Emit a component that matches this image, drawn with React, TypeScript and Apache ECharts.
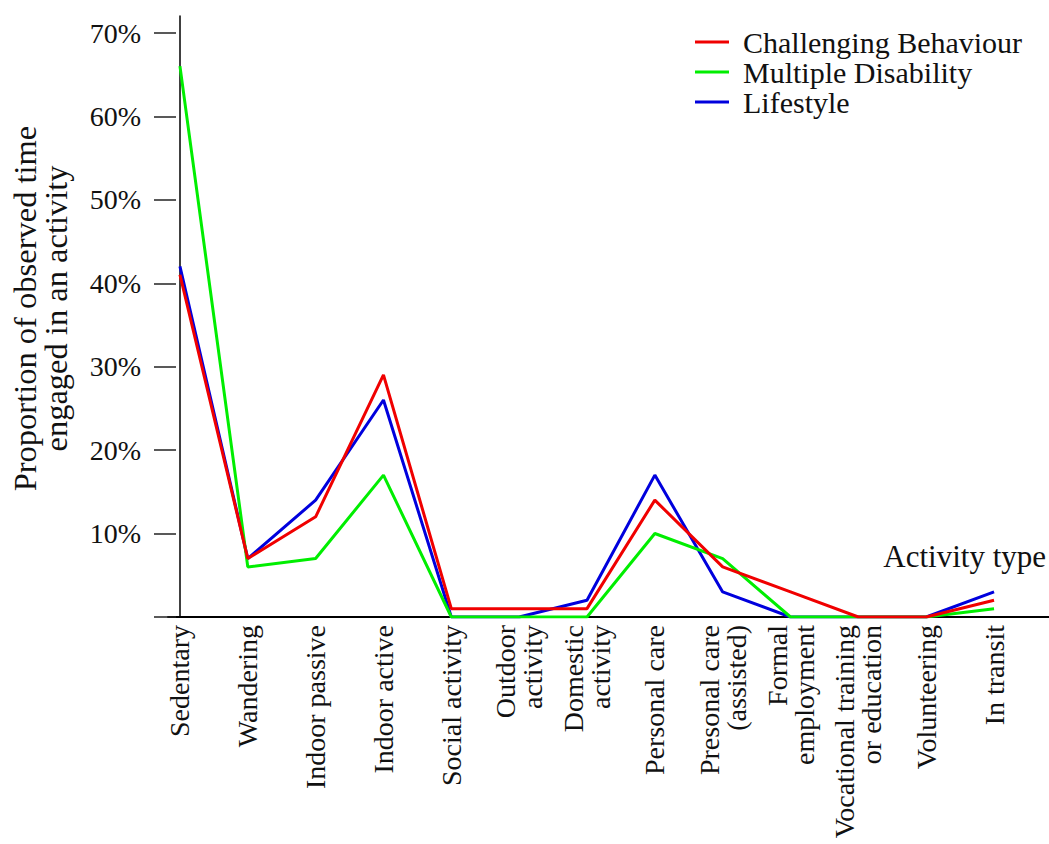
import React, { useEffect, useRef } from "react";
import * as echarts from "echarts";

const categories = [
  "Sedentary",
  "Wandering",
  "Indoor passive",
  "Indoor active",
  "Social activity",
  "Outdoor\nactivity",
  "Domestic\nactivity",
  "Personal care",
  "Presonal care\n(assisted)",
  "Formal\nemployment",
  "Vocational training\nor education",
  "Volunteering",
  "In transit",
];
const challengingBehaviour = [41, 7, 12, 29, 1, 1, 1, 14, 6, 3, 0, 0, 2];
const multipleDisability = [66, 6, 7, 17, 0, 0, 0, 10, 7, 0, 0, 0, 1];
const lifestyle = [42, 7, 14, 26, 0, 0, 2, 17, 3, 0, 0, 0, 3];
const seriesNames = ["Challenging Behaviour", "Multiple Disability", "Lifestyle"];
const yTickMax = 70;
const yTickStep = 10;

const FONT = "'Liberation Serif', 'Times New Roman', serif";

export default function App() {
  const ref = useRef<HTMLDivElement>(null);
  useEffect(() => {
    if (!ref.current) return;
    const chart = echarts.init(ref.current, null, { renderer: "svg" });
    const idx = categories.map((_, i) => i);
    const toPairs = (arr: number[]) => arr.map((v, i) => [idx[i], v]);
    const lineSeries = (name: string, data: number[], color: string, z: number) => ({
      name,
      type: "line",
      xAxisIndex: 0,
      yAxisIndex: 0,
      data: toPairs(data),
      symbol: "none",
      showSymbol: false,
      z,
      lineStyle: { color, width: 3 },
      itemStyle: { color },
    });
    const tickAxis = (inside: boolean, withLabels: boolean) => ({
      type: "value",
      gridIndex: 1,
      min: 0,
      max: yTickMax,
      interval: yTickStep,
      position: "left",
      splitLine: { show: false },
      axisLine: { show: false },
      axisTick: { show: true, inside, length: 11, lineStyle: { color: "#222", width: 1.5 } },
      axisLabel: withLabels
        ? {
            show: true,
            margin: 24,
            fontFamily: FONT,
            fontSize: 28,
            color: "#111",
            formatter: (v: number) => (v === 0 ? "" : v + "%"),
          }
        : { show: false },
    });
    chart.setOption({
      animation: false,
      backgroundColor: "#ffffff",
      grid: [
        { left: 165, right: 0, top: 16, bottom: 227, containLabel: false },
        { left: 165, right: 0, top: 33, bottom: 227, containLabel: false },
      ],
      legend: {
        orient: "vertical",
        left: 695,
        top: 27,
        padding: 0,
        itemWidth: 34,
        itemHeight: 3,
        itemGap: 0,
        icon: "rect",
        data: seriesNames,
        textStyle: {
          fontFamily: FONT,
          fontSize: 30,
          color: "#111",
          lineHeight: 29.5,
          padding: [0, 0, 0, 9],
        },
      },
      xAxis: [
        {
          type: "value",
          gridIndex: 0,
          min: -0.176,
          max: 12.81,
          splitLine: { show: false },
          axisLine: { show: true, lineStyle: { color: "#000", width: 2 } },
          axisTick: { show: false },
          axisLabel: {
            customValues: idx,
            rotate: 90,
            margin: 8,
            fontFamily: FONT,
            fontSize: 28,
            lineHeight: 27,
            color: "#111",
            formatter: (v: number) => categories[Math.round(v)] ?? "",
          },
        },
        { type: "value", gridIndex: 1, show: false, min: 0, max: 1 },
      ],
      yAxis: [
        {
          type: "value",
          gridIndex: 0,
          min: 0,
          max: 72,
          position: "left",
          splitLine: { show: false },
          axisLine: { show: true, lineStyle: { color: "#000", width: 1.5 } },
          axisTick: { show: false },
          axisLabel: { show: false },
          name: "Proportion of observed time\nengaged in an activity",
          nameLocation: "middle",
          nameRotate: 90,
          nameGap: 97,
          nameTextStyle: {
            fontFamily: FONT,
            fontSize: 32.5,
            lineHeight: 31,
            color: "#111",
            padding: [0, 0, 0, 16],
          },
        },
        tickAxis(false, true),
        tickAxis(true, false),
      ],
      graphic: [
        {
          type: "text",
          right: 3,
          top: 541,
          style: { text: "Activity type", font: `31px ${FONT}`, fill: "#111" },
        },
      ],
      series: [
        lineSeries(seriesNames[0], challengingBehaviour, "#f00000", 5),
        lineSeries(seriesNames[1], multipleDisability, "#00ee00", 4),
        lineSeries(seriesNames[2], lifestyle, "#0000dd", 3),
      ],
    });
    return () => chart.dispose();
  }, []);
  return <div ref={ref} style={{ width: 1049, height: 844, position: "absolute", left: 0, top: 0 }} />;
}
